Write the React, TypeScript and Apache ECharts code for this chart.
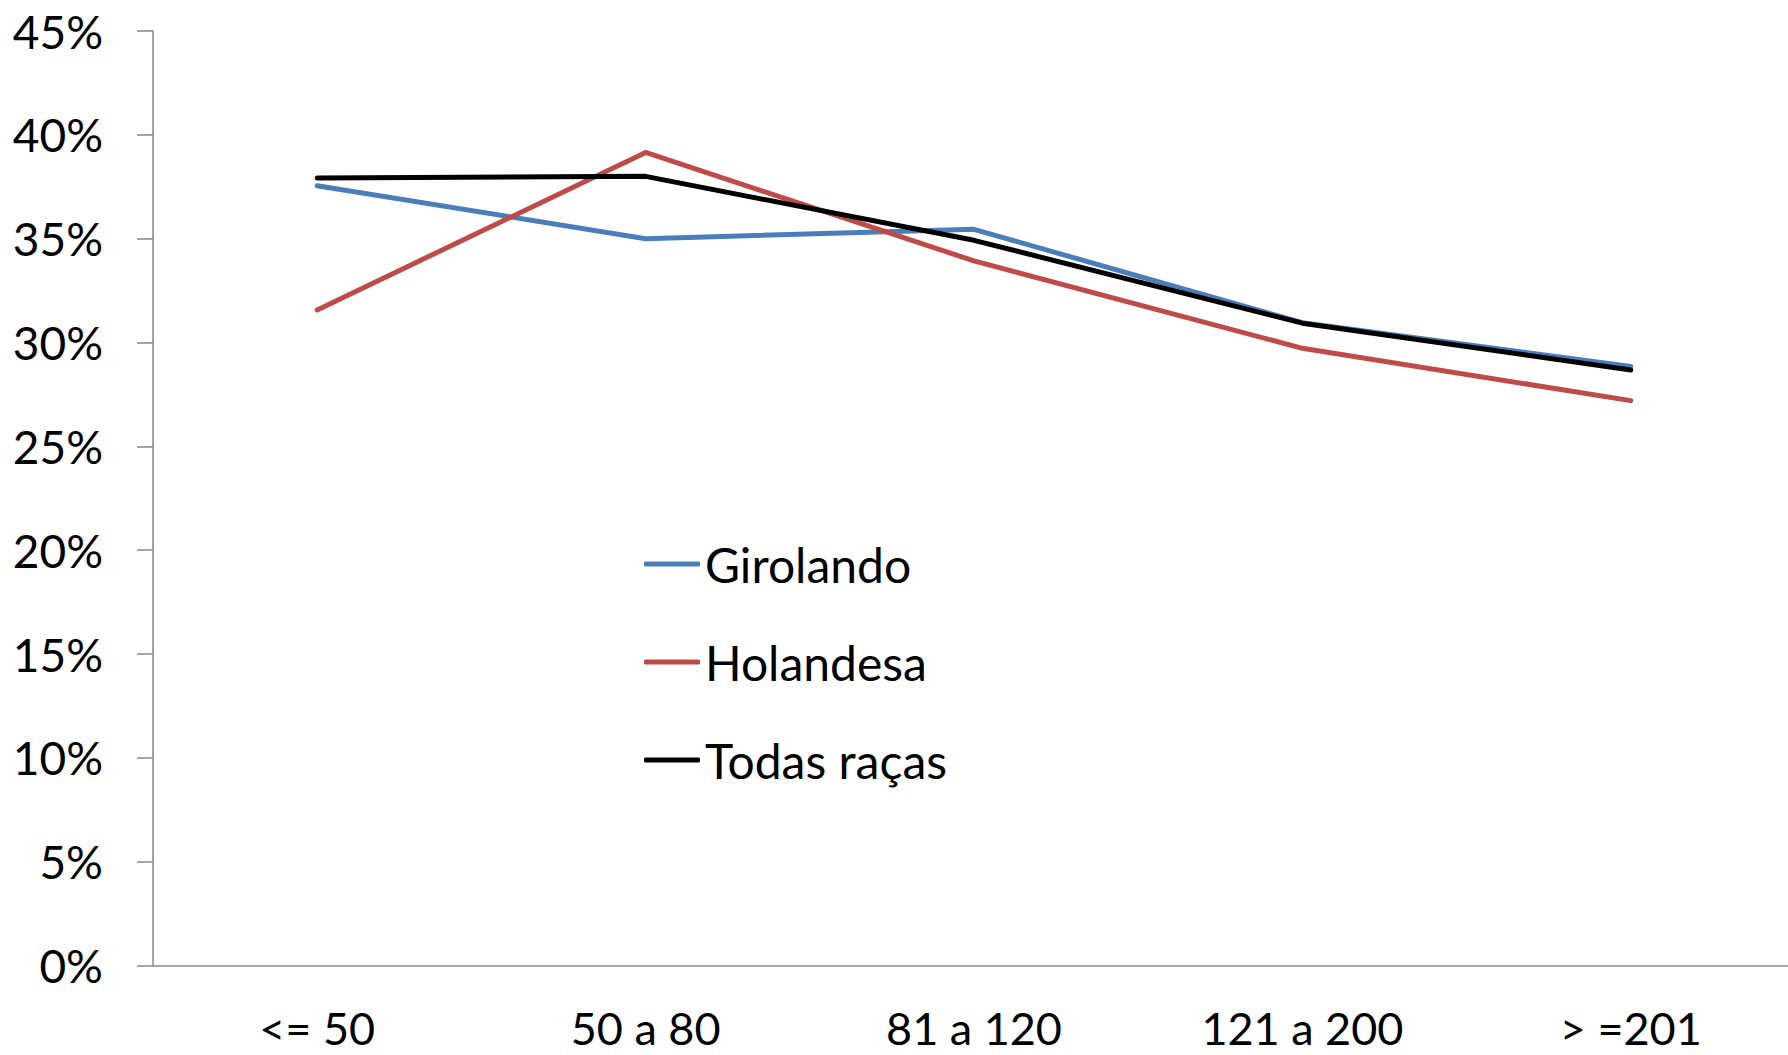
import React, { useEffect, useRef } from "react";
import * as echarts from "echarts";

const categories = ["<= 50", "50 a 80", "81 a 120", "121 a 200", "> =201"];
const girolando = [37.55, 35.0, 35.45, 30.95, 28.85];
const holandesa = [31.57, 39.15, 33.93, 29.72, 27.2];
const todasRacas = [37.92, 38.0, 34.92, 30.93, 28.68];
const yTicks = { min: 0, max: 45, interval: 5 };

const FONT = "Lato, 'Open Sans', sans-serif";
const AXIS_COLOR = "#868686";

export default function App() {
  const ref = useRef<HTMLDivElement>(null);
  useEffect(() => {
    if (!ref.current) return;
    const chart = echarts.init(ref.current, undefined, { renderer: "svg" });
    chart.setOption({
      animation: false,
      backgroundColor: "#ffffff",
      textStyle: { fontFamily: FONT },
      grid: { left: 153, right: 5, top: 31, bottom: 89.5, containLabel: false },
      legend: {
        orient: "vertical",
        left: 639,
        top: 531,
        icon: "roundRect",
        itemWidth: 56,
        itemHeight: 5,
        itemGap: 42,
        textStyle: { fontSize: 48, color: "#000", lineHeight: 56, fontFamily: FONT },
        data: ["Girolando", "Holandesa", "Todas raças"],
      },
      xAxis: {
        type: "category",
        data: categories,
        boundaryGap: true,
        axisLine: { lineStyle: { color: AXIS_COLOR, width: 1.5 } },
        axisTick: { length: 16, lineStyle: { color: AXIS_COLOR, width: 1.5 } },
        axisLabel: { color: "#000", fontSize: 45, lineHeight: 38, margin: 43, fontFamily: FONT },
        splitLine: { show: false },
      },
      yAxis: {
        type: "value",
        min: yTicks.min,
        max: yTicks.max,
        interval: yTicks.interval,
        axisLine: { show: true, lineStyle: { color: AXIS_COLOR, width: 1.5 } },
        axisTick: { show: true, length: 16, lineStyle: { color: AXIS_COLOR, width: 1.5 } },
        axisLabel: { color: "#000", fontSize: 46, margin: 50, formatter: "{value}%", fontFamily: FONT },
        splitLine: { show: false },
      },
      series: [
        {
          name: "Girolando",
          type: "line",
          data: girolando,
          symbol: "none",
          color: "#4A7EBB",
          lineStyle: { width: 5, color: "#4A7EBB", cap: "round", join: "round" },
          z: 2,
        },
        {
          name: "Holandesa",
          type: "line",
          data: holandesa,
          symbol: "none",
          color: "#BE4B48",
          lineStyle: { width: 5, color: "#BE4B48", cap: "round", join: "round" },
          z: 3,
        },
        {
          name: "Todas raças",
          type: "line",
          data: todasRacas,
          symbol: "none",
          color: "#000000",
          lineStyle: { width: 5, color: "#000000", cap: "round", join: "round" },
          z: 4,
        },
      ],
    });
    return () => chart.dispose();
  }, []);
  return (
    <div style={{ position: "fixed", left: 0, top: 0, width: 1788, height: 1055, overflow: "hidden", background: "#fff" }}>
      <div ref={ref} style={{ width: 1800, height: 1055 }} />
    </div>
  );
}
